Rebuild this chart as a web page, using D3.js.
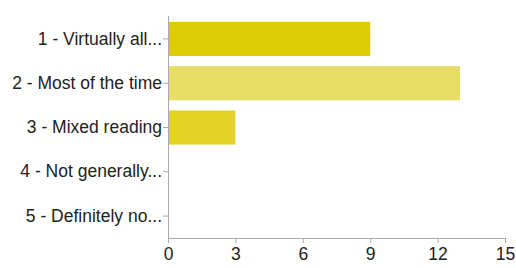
<!DOCTYPE html>
<html>
<head>
<meta charset="utf-8">
<script src="https://cdn.jsdelivr.net/npm/d3@7"></script>
<style>
  body { margin: 0; background: #fff; }
  text { font-family: "Liberation Sans", Arial, sans-serif; }
</style>
</head>
<body>
<script>
// chart data
var categories = ['1 - Virtually all...', '2 - Most of the time', '3 - Mixed reading', '4 - Not generally...', '5 - Definitely no...'];
var counts = [9, 13, 3, 0, 0];
var colors = ['#dccb00', '#e8dd65', '#e3d324', '#e3d324', '#e3d324'];
var xTicks = [0, 3, 6, 9, 12, 15];

var width = 516, height = 268;
var mLeft = 168, mTop = 17, mRight = 505, mBottom = 238;

var svg = d3.select('body').append('svg')
  .attr('width', width)
  .attr('height', height);

var x = d3.scaleLinear().domain([0, 15]).range([mLeft, mRight]);
var y = d3.scaleBand().domain(categories).range([mTop, mBottom]).paddingInner(0.23).paddingOuter(0.11);

// bars
svg.selectAll('rect.bar').data(categories)
  .enter().append('rect')
  .attr('class', 'bar')
  .attr('x', x(0))
  .attr('y', function(d){ return y(d); })
  .attr('width', function(d, i){ return x(counts[i]) - x(0); })
  .attr('height', y.bandwidth())
  .attr('fill', function(d, i){ return colors[i]; });

// y axis
var yAxis = svg.append('g')
  .attr('transform', 'translate(' + mLeft + ',0)')
  .call(d3.axisLeft(y).tickSize(5).tickPadding(1));
yAxis.select('.domain').remove();
yAxis.append('line')
  .attr('x1', 0.5).attr('x2', 0.5)
  .attr('y1', 16).attr('y2', mBottom)
  .attr('stroke', '#aaa');

// x axis
var xAxis = svg.append('g')
  .attr('transform', 'translate(0,' + mBottom + ')')
  .call(d3.axisBottom(x).tickValues(xTicks).tickSize(5).tickPadding(5));
xAxis.select('.domain').attr('stroke', '#aaa').attr('d', 'M' + mLeft + ',0.5H' + (mRight + 0.5));

svg.selectAll('.tick line').attr('stroke', '#aaa');
svg.selectAll('.tick text')
  .attr('font-size', 17.5)
  .attr('fill', '#222');
yAxis.selectAll('.tick line').attr('x1', 0);
</script>
</body>
</html>
